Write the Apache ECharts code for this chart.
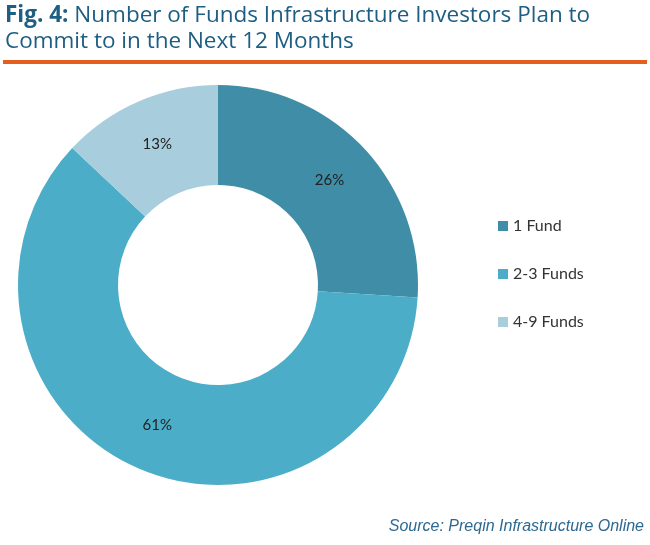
<!DOCTYPE html>
<html>
<head>
<meta charset="utf-8">
<script src="https://cdn.jsdelivr.net/npm/echarts@6/dist/echarts.min.js"></script>
<style>
html,body{margin:0;padding:0;background:#fff;}
#chart{width:650px;height:545px;}
</style>
</head>
<body>
<div id="chart"></div>
<script>
var categories = ['1 Fund', '2-3 Funds', '4-9 Funds'];
var values = [26, 61, 13];
var colors = ['#3F8DA6', '#4BADC8', '#A8CEDE'];

var chart = echarts.init(document.getElementById('chart'), null, {renderer: 'canvas'});
var data = categories.map(function (c, i) {
  return {name: c, value: values[i], itemStyle: {color: colors[i]}};
});
chart.setOption({
  animation: false,
  backgroundColor: '#ffffff',
  graphic: [
    {
      type: 'text', left: 5, top: 3,
      style: {
        text: '{b|Fig. 4:} Number of Funds Infrastructure Investors Plan to\nCommit to in the Next 12 Months',
        font: '22.5px "Open Sans", Lato, sans-serif',
        fill: '#1E5E82',
        lineHeight: 26,
        rich: {b: {font: 'bold 22.5px "Open Sans", Lato, sans-serif', fill: '#1E5E82'}}
      }
    },
    {
      type: 'rect', shape: {x: 3, y: 60, width: 644, height: 4},
      style: {fill: '#E35E1F'}
    },
    {
      type: 'text', right: 6, top: 519,
      style: {
        text: 'Source: Preqin Infrastructure Online',
        font: 'italic 16px "Liberation Sans", Arial, sans-serif',
        fill: '#2C6890'
      }
    }
  ],
  legend: {
    orient: 'vertical',
    left: 493, top: 213,
    itemGap: 32,
    itemWidth: 10, itemHeight: 10,
    icon: 'rect',
    textStyle: {fontFamily: 'Lato, "Open Sans", sans-serif', fontSize: 16, color: '#333'},
    data: categories
  },
  series: [{
    type: 'pie',
    center: [218, 285],
    radius: [100, 200],
    startAngle: 90,
    clockwise: true,
    avoidLabelOverlap: false,
    label: {
      show: true, position: 'inside',
      formatter: '{c}%',
      fontFamily: 'Lato, "Open Sans", sans-serif',
      fontSize: 15, color: '#222'
    },
    labelLine: {show: false},
    emphasis: {disabled: true},
    itemStyle: {borderWidth: 0},
    data: data
  }]
});
</script>
</body>
</html>
